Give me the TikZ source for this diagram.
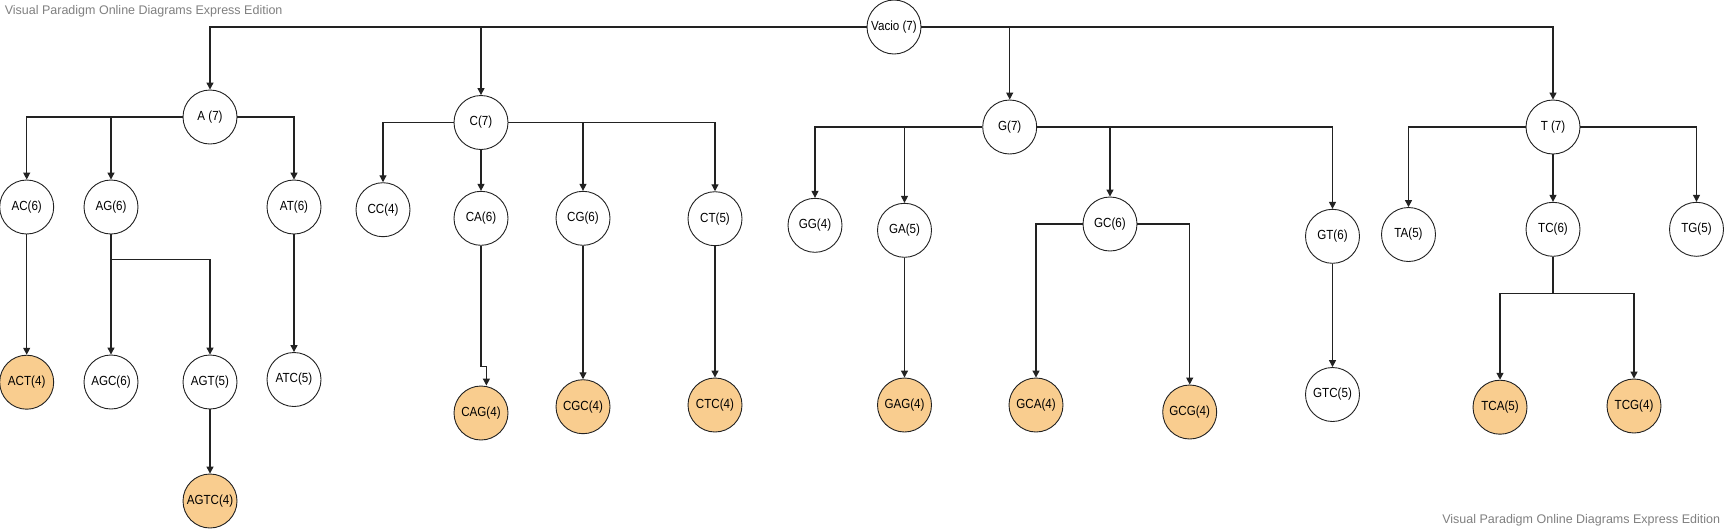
\documentclass[tikz,border=0pt]{standalone}
\usepackage{fontspec}
\setmainfont{Liberation Sans}
\newfontfamily\lblfont{Liberation Sans}[FakeStretch=0.88]
\usetikzlibrary{arrows.meta}
\definecolor{leaf}{HTML}{F9CD8F}
\definecolor{edgec}{HTML}{222222}
\definecolor{wmark}{HTML}{808080}
\begin{document}
\begin{tikzpicture}[x=1pt,y=-1pt,
  nd/.style={circle,draw=edgec,line width=0.9pt,fill=white,minimum size=54pt,inner sep=0pt,
     font=\lblfont\fontsize{13.2}{14}\selectfont},
  lf/.style={nd,fill=leaf},
  arr/.style={draw=edgec,line width=1.2pt,-{Triangle[length=7pt,width=7pt]}},
  ln/.style={draw=edgec,line width=1.2pt},
  wm/.style={text=wmark,font=\fontsize{12.5}{14}\selectfont,inner sep=0pt}]
\useasboundingbox (0,0) rectangle (1726,531);
\fill[white] (0,0) rectangle (1726,531);
% watermarks
\node[wm,anchor=west] (wm1) at (4.6,11.7) {Visual Paradigm Online Diagrams Express Edition};
\node[wm,anchor=east] (wm2) at (1720.2,520.7) {Visual Paradigm Online Diagrams Express Edition};
% level 0/1
\node[nd] (vac) at (894,27) {Vacio (7)};
\node[nd] (A) at (210,117) {A (7)};
\node[nd] (C) at (481,122.5) {C(7)};
\node[nd] (G) at (1009.7,127) {G(7)};
\node[nd] (T) at (1553,127) {T (7)};
% level 2
\node[nd] (AC) at (26.7,207) {AC(6)};
\node[nd] (AG) at (111,207) {AG(6)};
\node[nd] (AT) at (294,207) {AT(6)};
\node[nd] (CC) at (383,209.7) {CC(4)};
\node[nd] (CA) at (481,218.3) {CA(6)};
\node[nd] (CG) at (583,218.3) {CG(6)};
\node[nd] (CT) at (715,218.7) {CT(5)};
\node[nd] (GG) at (815,225.3) {GG(4)};
\node[nd] (GA) at (904.5,230.3) {GA(5)};
\node[nd] (GC) at (1110,224) {GC(6)};
\node[nd] (GT) at (1332.5,236.3) {GT(6)};
\node[nd] (TA) at (1408.5,234.5) {TA(5)};
\node[nd] (TC) at (1553,229.3) {TC(6)};
\node[nd] (TG) at (1696.5,229.3) {TG(5)};
% level 3
\node[lf] (ACT) at (26.7,382.2) {ACT(4)};
\node[nd] (AGC) at (111,382) {AGC(6)};
\node[nd] (AGT) at (210,382) {AGT(5)};
\node[nd] (ATC) at (294,379.5) {ATC(5)};
\node[lf] (AGTC) at (210,501) {AGTC(4)};
\node[lf] (CAG) at (481,413) {CAG(4)};
\node[lf] (CGC) at (583,406.7) {CGC(4)};
\node[lf] (CTC) at (715,405) {CTC(4)};
\node[lf] (GAG) at (904.5,405) {GAG(4)};
\node[lf] (GCA) at (1036,405) {GCA(4)};
\node[lf] (GCG) at (1189.7,412) {GCG(4)};
\node[nd] (GTC) at (1332.5,394.5) {GTC(5)};
\node[lf] (TCA) at (1500,407.2) {TCA(5)};
\node[lf] (TCG) at (1634,406) {TCG(4)};
% junctions
\coordinate (agj) at (111,259.3);
\coordinate (cagj) at (486.4,366.7);
\coordinate (tcj) at (1553,293.3);
% root edges
\draw[arr] (vac.west) -| (A.north);
\draw[arr] (vac.west) -| (C.north);
\draw[arr] (vac.east) -| (G.north);
\draw[arr] (vac.east) -| (T.north);
% A
\draw[arr] (A.west) -| (AC.north);
\draw[arr] (A.west) -| (AG.north);
\draw[arr] (A.east) -| (AT.north);
\draw[arr] (AC.south) -- (ACT.north);
\draw[arr] (AG.south) -- (AGC.north);
\draw[arr] (AG.south) -- (agj) -| (AGT.north);
\draw[arr] (AT.south) -- (ATC.north);
\draw[arr] (AGT.south) -- (AGTC.north);
% C
\draw[arr] (C.west) -| (CC.north);
\draw[arr] (C.south) -- (CA.north);
\draw[arr] (C.east) -| (CG.north);
\draw[arr] (C.east) -| (CT.north);
\draw[arr] (CA.south) |- (cagj) -- (cagj |- CAG.north);
\draw[arr] (CG.south) -- (CGC.north);
\draw[arr] (CT.south) -- (CTC.north);
% G
\draw[arr] (G.west) -| (GG.north);
\draw[arr] (G.west) -| (GA.north);
\draw[arr] (G.east) -| (GC.north);
\draw[arr] (G.east) -| (GT.north);
\draw[arr] (GA.south) -- (GAG.north);
\draw[arr] (GC.west) -| (GCA.north);
\draw[arr] (GC.east) -| (GCG.north);
\draw[arr] (GT.south) -- (GTC.north);
% T
\draw[arr] (T.west) -| (TA.north);
\draw[arr] (T.south) -- (TC.north);
\draw[arr] (T.east) -| (TG.north);
\draw[arr] (TC.south) -- (tcj) -| (TCA.north);
\draw[arr] (TC.south) -- (tcj) -| (TCG.north);
\end{tikzpicture}
\end{document}
